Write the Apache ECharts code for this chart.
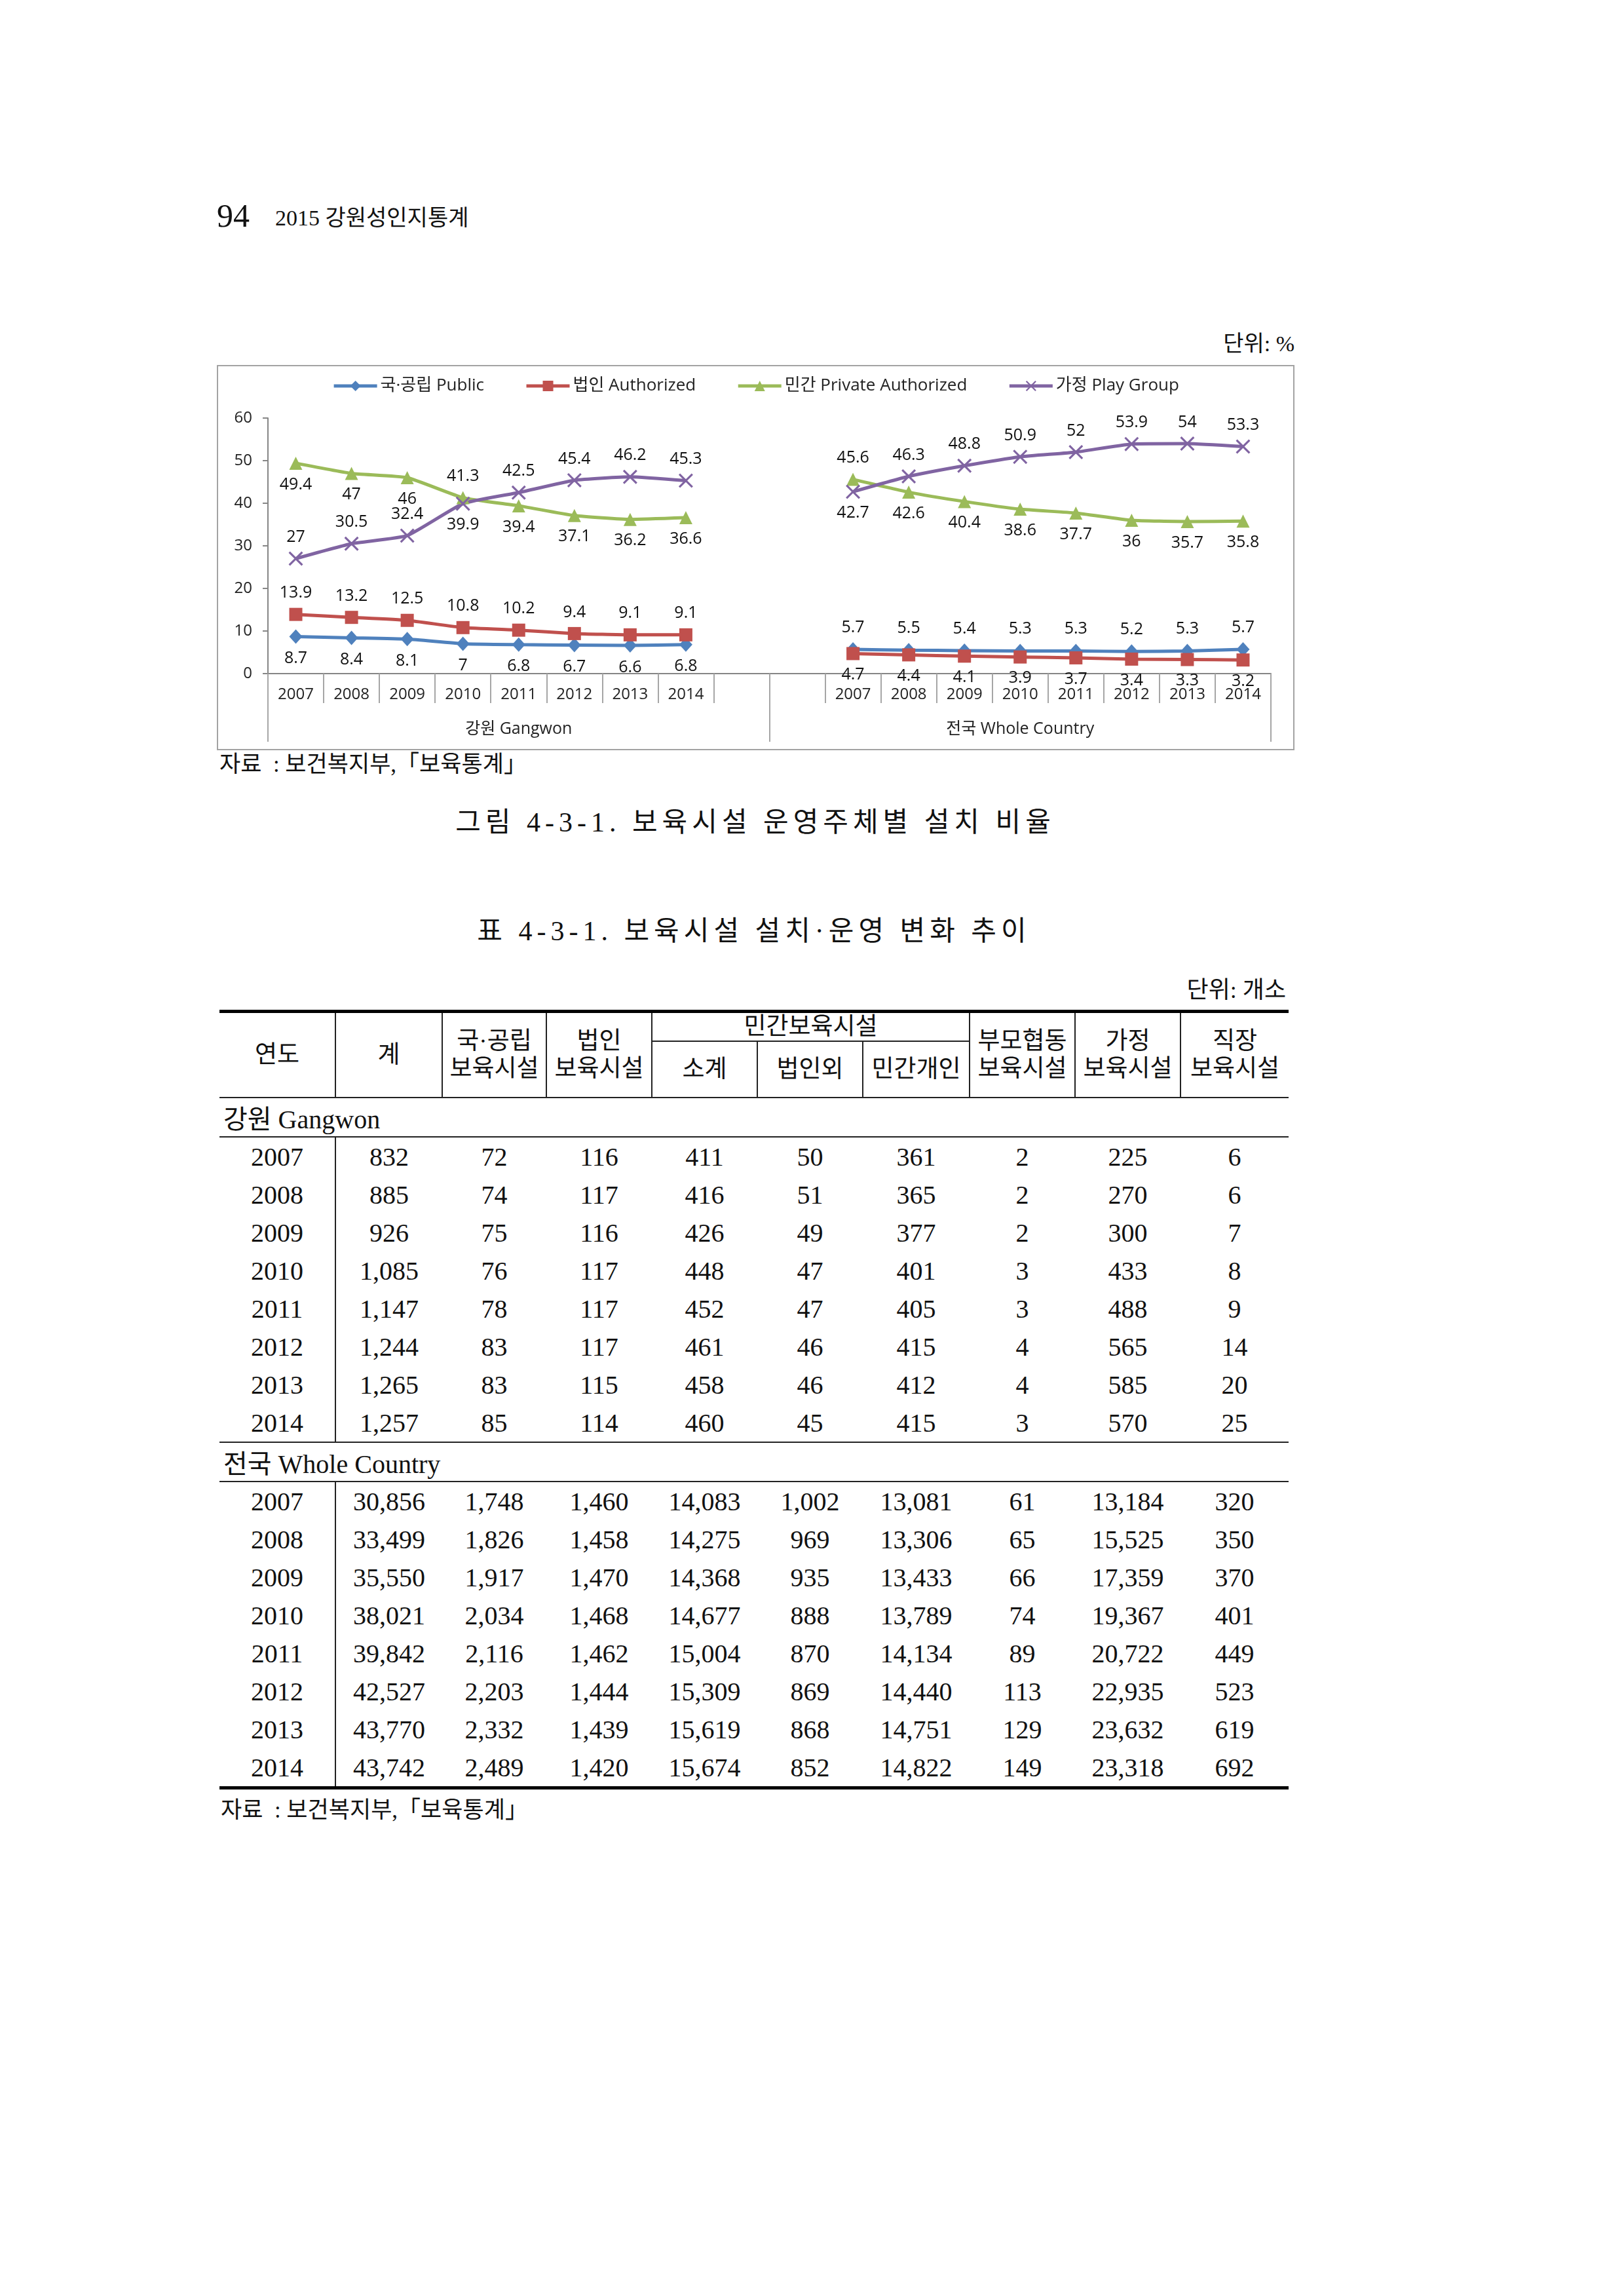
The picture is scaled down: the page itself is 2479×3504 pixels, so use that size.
<!DOCTYPE html>
<html lang="ko">
<head>
<meta charset="utf-8">
<title>보육시설 운영주체별 설치 비율</title>
<script src="https://cdn.jsdelivr.net/npm/echarts@6/dist/echarts.min.js"></script>
<style>
    body { margin: 0; background: #fff; }
    #page { position: relative; width: 2479px; height: 3504px; background: #fff; color: #111;
            font-family: "Liberation Serif", "Noto Sans CJK KR", serif; }
    .txt { position: absolute; white-space: pre; line-height: 1; }
    #chart-box { position: absolute; left: 331px; top: 557px; width: 1645px; height: 588px;
                 box-sizing: border-box; border: 2px solid #a3a3a3; }
    #chart { position: absolute; left: 331px; top: 557px; width: 1645px; height: 588px; }
    #stat-table { position: absolute; left: 335px; top: 1541px; width: 1632px; border-collapse: collapse;
                  table-layout: fixed; font-size: 40px; }
    #stat-table td, #stat-table th { padding: 0; text-align: center; font-weight: normal; white-space: nowrap; }
    #stat-table thead th { border-left: 2px solid #222; font-size: 37px; line-height: 42px; }
    #stat-table thead tr:first-child th { border-top: 5px solid #000; }
    #stat-table thead th.first { border-left: none; }
    #stat-table thead tr.sub th { border-top: 2px solid #222; }
    #stat-table tbody td { height: 58px; }
    #stat-table tbody td.year { border-right: 2px solid #222; }
    #stat-table tbody tr.section td { text-align: left; padding-left: 6px; border-top: 2px solid #222; border-bottom: 2px solid #222; }
    #stat-table tbody tr.last td { border-bottom: 5px solid #000; }
</style>
</head>
<body>
<div id="page">
    <div class="txt" style="left:331px; top:304px; font-size:50px;">94</div>
    <div class="txt" style="left:420px; top:316px; font-size:34px;">2015 강원성인지통계</div>
    <div class="txt" style="right:503px; top:508px; font-size:34px;">단위: %</div>

    <div id="chart-box"></div>
    <div id="chart"></div>

    <div class="txt" style="left:335px; top:1149px; font-size:35px;">자료  : 보건복지부,「보육통계」</div>
    <div class="txt" style="left:0; width:2306px; text-align:center; top:1234px; font-size:42px; letter-spacing:7px;">그림 4-3-1. 보육시설 운영주체별 설치 비율</div>
    <div class="txt" style="left:0; width:2302px; text-align:center; top:1400px; font-size:42px; letter-spacing:7px;">표 4-3-1. 보육시설 설치·운영 변화 추이</div>
    <div class="txt" style="right:516px; top:1493px; font-size:36px;">단위: 개소</div>

    <table id="stat-table">
        <colgroup>
            <col style="width:177px"><col style="width:163px"><col style="width:159px"><col style="width:161px">
            <col style="width:161px"><col style="width:161px"><col style="width:163px"><col style="width:161px">
            <col style="width:161px"><col style="width:165px">
        </colgroup>
        <thead>
            <tr style="height:42px">
                <th rowspan="2" class="first">연도</th>
                <th rowspan="2">계</th>
                <th rowspan="2">국·공립<br>보육시설</th>
                <th rowspan="2">법인<br>보육시설</th>
                <th colspan="3">민간보육시설</th>
                <th rowspan="2">부모협동<br>보육시설</th>
                <th rowspan="2">가정<br>보육시설</th>
                <th rowspan="2">직장<br>보육시설</th>
            </tr>
            <tr class="sub" style="height:86px">
                <th>소계</th>
                <th>법인외</th>
                <th>민간개인</th>
            </tr>
        </thead>
        <tbody id="table-body"></tbody>
    </table>

    <div class="txt" style="left:337px; top:2745px; font-size:35px;">자료  : 보건복지부,「보육통계」</div>
</div>

<script>
// 연도 | Years
const years = ['2007', '2008', '2009', '2010', '2011', '2012', '2013', '2014'];
const groupNames = ['강원 Gangwon', '전국 Whole Country'];
const seriesNames = ['국·공립 Public', '법인 Authorized', '민간 Private Authorized', '가정 Play Group'];

// 강원 비율(%) | Gangwon shares
const gwPublic = [8.7, 8.4, 8.1, 7, 6.8, 6.7, 6.6, 6.8];
const gwAuthorized = [13.9, 13.2, 12.5, 10.8, 10.2, 9.4, 9.1, 9.1];
const gwPrivate = [49.4, 47, 46, 41.3, 39.4, 37.1, 36.2, 36.6];
const gwPlay = [27, 30.5, 32.4, 39.9, 42.5, 45.4, 46.2, 45.3];

// 전국 비율(%) | Whole country shares
const krPublic = [5.7, 5.5, 5.4, 5.3, 5.3, 5.2, 5.3, 5.7];
const krAuthorized = [4.7, 4.4, 4.1, 3.9, 3.7, 3.4, 3.3, 3.2];
const krPrivate = [45.6, 42.6, 40.4, 38.6, 37.7, 36, 35.7, 35.8];
const krPlay = [42.7, 46.3, 48.8, 50.9, 52, 53.9, 54, 53.3];

// 표 데이터 | Table rows: year, 계, 국공립, 법인, 소계, 법인외, 민간개인, 부모협동, 가정, 직장
const gangwonRows = [
    ['2007', '832', '72', '116', '411', '50', '361', '2', '225', '6'],
    ['2008', '885', '74', '117', '416', '51', '365', '2', '270', '6'],
    ['2009', '926', '75', '116', '426', '49', '377', '2', '300', '7'],
    ['2010', '1,085', '76', '117', '448', '47', '401', '3', '433', '8'],
    ['2011', '1,147', '78', '117', '452', '47', '405', '3', '488', '9'],
    ['2012', '1,244', '83', '117', '461', '46', '415', '4', '565', '14'],
    ['2013', '1,265', '83', '115', '458', '46', '412', '4', '585', '20'],
    ['2014', '1,257', '85', '114', '460', '45', '415', '3', '570', '25']
];
const countryRows = [
    ['2007', '30,856', '1,748', '1,460', '14,083', '1,002', '13,081', '61', '13,184', '320'],
    ['2008', '33,499', '1,826', '1,458', '14,275', '969', '13,306', '65', '15,525', '350'],
    ['2009', '35,550', '1,917', '1,470', '14,368', '935', '13,433', '66', '17,359', '370'],
    ['2010', '38,021', '2,034', '1,468', '14,677', '888', '13,789', '74', '19,367', '401'],
    ['2011', '39,842', '2,116', '1,462', '15,004', '870', '14,134', '89', '20,722', '449'],
    ['2012', '42,527', '2,203', '1,444', '15,309', '869', '14,440', '113', '22,935', '523'],
    ['2013', '43,770', '2,332', '1,439', '15,619', '868', '14,751', '129', '23,632', '619'],
    ['2014', '43,742', '2,489', '1,420', '15,674', '852', '14,822', '149', '23,318', '692']
];

// 표 그리기 | Render table
function renderTable() {
    const tbody = document.getElementById('table-body');
    const addSection = (title, rows, isLast) => {
        const head = document.createElement('tr');
        head.className = 'section';
        head.innerHTML = `<td colspan="10">${title}</td>`;
        tbody.appendChild(head);
        rows.forEach((row, i) => {
            const tr = document.createElement('tr');
            if (isLast && i === rows.length - 1) tr.className = 'last';
            tr.innerHTML = row.map((v, j) => `<td${j === 0 ? ' class="year"' : ''}>${v}</td>`).join('');
            tbody.appendChild(tr);
        });
    };
    addSection(groupNames[0], gangwonRows, false);
    addSection(groupNames[1], countryRows, true);
}

// 라벨 위치 | Label placement per point (styling only)
const T = 'top', B = 'bottom';
const labelPos = {
    public: [[B, B, B, B, B, B, B, B], [T, T, T, T, T, T, T, T]],
    authorized: [[T, T, T, T, T, T, T, T], [B, B, B, B, B, B, B, B]],
    private: [[B, B, B, T, B, B, B, B], [T, B, B, B, B, B, B, B]],
    play: [[T, T, T, B, T, T, T, T], [B, T, T, T, T, T, T, T]]
};

const categories = years.concat(['', ''], years);

function buildData(gw, kr, pos) {
    const part = (vals, p) => vals.map((v, i) => ({ value: v, label: { position: p[i] } }));
    return part(gw, pos[0]).concat(['-', '-'], part(kr, pos[1]));
}

const crossPath = 'path://M0,2 L2,0 L10,8 L18,0 L20,2 L12,10 L20,18 L18,20 L10,12 L2,20 L0,18 L8,10 Z';
const FONT = '"Open Sans", "Noto Sans CJK KR", sans-serif';

function makeSeries(name, data, color, symbol, size, dist) {
    return {
        name: name,
        type: 'line',
        data: data,
        smooth: 0.15,
        symbol: symbol,
        symbolSize: size,
        connectNulls: false,
        lineStyle: { color: color, width: 5 },
        itemStyle: { color: color },
        label: { show: true, fontSize: 25, color: '#111', fontFamily: FONT, distance: dist },
        z: 3
    };
}

function initChart() {
    const chart = echarts.init(document.getElementById('chart'), null, { renderer: 'canvas' });
    const option = {
        animation: false,
        textStyle: { fontFamily: FONT },
        legend: {
            top: 14,
            left: 'center',
            itemWidth: 66,
            itemHeight: 20,
            itemGap: 62,
            lineStyle: { width: 5 },
            textStyle: { fontSize: 26, color: '#222', fontFamily: FONT }
        },
        grid: { left: 78, right: 36, top: 81, bottom: 117 },
        xAxis: [
            {
                type: 'category',
                data: categories,
                boundaryGap: true,
                axisLine: { show: true, lineStyle: { color: '#868686', width: 2 } },
                axisTick: { show: true, interval: 0, length: 45, lineStyle: { color: '#a6a6a6', width: 2 } },
                axisLabel: { interval: 0, margin: 20, fontSize: 24, color: '#222', fontFamily: FONT }
            },
            {
                type: 'category',
                data: groupNames,
                position: 'bottom',
                boundaryGap: true,
                axisLine: { show: false },
                axisTick: { show: true, interval: 0, length: 104, lineStyle: { color: '#a6a6a6', width: 2 } },
                axisLabel: { interval: 0, margin: 72, fontSize: 25, color: '#222', fontFamily: FONT }
            }
        ],
        yAxis: {
            type: 'value',
            min: 0,
            max: 60,
            interval: 10,
            axisLine: { show: true, lineStyle: { color: '#868686', width: 2 } },
            axisTick: { show: true, length: 8, lineStyle: { color: '#868686', width: 2 } },
            splitLine: { show: false },
            axisLabel: { fontSize: 24, margin: 24, color: '#222', fontFamily: FONT }
        },
        series: [
            makeSeries(seriesNames[0], buildData(gwPublic, krPublic, labelPos.public), '#4F81BD', 'diamond', [20, 22], 10),
            makeSeries(seriesNames[1], buildData(gwAuthorized, krAuthorized, labelPos.authorized), '#C0504D', 'rect', 20, 10),
            makeSeries(seriesNames[2], buildData(gwPrivate, krPrivate, labelPos.private), '#9BBB59', 'triangle', 20, 10),
            makeSeries(seriesNames[3], buildData(gwPlay, krPlay, labelPos.play), '#8064A2', crossPath, 22, 9)
        ]
    };
    chart.setOption(option);
}

renderTable();
initChart();
</script>
</body>
</html>
